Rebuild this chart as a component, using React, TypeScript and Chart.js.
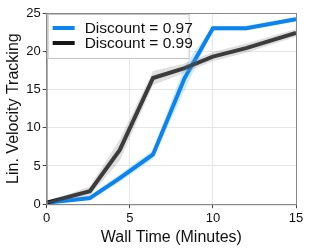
import React, { useEffect, useRef } from "react";
import { Chart, registerables } from "chart.js";

Chart.register(...registerables);

const times = [0, 2.6, 4.4, 6.4, 8.3, 10, 12, 15];
const blueMean = [0.2, 0.8, 3.4, 6.5, 16.5, 23.0, 23.0, 24.2];
const blueStd = [0.1, 0.3, 0.5, 0.6, 1.6, 0.3, 0.3, 0.3];
const blackMean = [0.2, 1.7, 7.1, 16.5, 17.8, 19.3, 20.4, 22.4];
const blackStd = [0.1, 0.6, 1.4, 0.9, 0.6, 0.6, 0.6, 0.5];
const xTicks = [0, 5, 10, 15];
const yTicks = [0, 5, 10, 15, 20, 25];
const labels = ["Discount = 0.97", "Discount = 0.99"];

const BLUE = "#0a84f0";
const BLACK = "#161616";
const FONT = "'Liberation Sans', Arial, sans-serif";

const pts = (m: number[], s: number[], k: number) =>
  times.map((t, i) => ({ x: t, y: m[i] + k * s[i] }));

export default function App() {
  const ref = useRef<HTMLCanvasElement | null>(null);
  useEffect(() => {
    document.body.style.margin = "0";
    const boxPlugin = {
      id: "boxAndLegend",
      afterDraw(chart: any) {
        const { ctx, chartArea: a } = chart;
        ctx.save();
        ctx.strokeStyle = "#888";
        ctx.lineWidth = 1;
        ctx.strokeRect(a.left + 0.5, a.top + 0.5, a.right - a.left, a.bottom - a.top);
        // legend
        const x0 = a.left + 1, y0 = a.top + 1;
        const w = 141, h = 44;
        ctx.fillStyle = "rgba(255,255,255,0.9)";
        ctx.fillRect(x0, y0, w, h);
        ctx.strokeStyle = "#c4c4c4";
        ctx.strokeRect(x0 + 0.5, y0 + 0.5, w, h);
        const cols = [BLUE, BLACK];
        ctx.font = `15.5px ${FONT}`;
        ctx.textBaseline = "middle";
        labels.forEach((l, i) => {
          const y = y0 + 14 + i * 15;
          ctx.strokeStyle = cols[i];
          ctx.lineWidth = 4;
          ctx.beginPath();
          ctx.moveTo(x0 + 5, y);
          ctx.lineTo(x0 + 27, y);
          ctx.stroke();
          ctx.fillStyle = "#111";
          ctx.fillText(l, x0 + 37, y + 1);
        });
        ctx.restore();
      },
    };
    const chart = new Chart(ref.current!, {
      type: "scatter",
      data: {
        datasets: [
          { data: pts(blackMean, blackStd, -1), showLine: true, borderWidth: 0, pointRadius: 0, borderColor: "transparent" },
          { data: pts(blackMean, blackStd, 1), showLine: true, borderWidth: 0, pointRadius: 0, borderColor: "transparent", fill: "-1", backgroundColor: "rgba(150,150,150,0.3)" },
          { data: pts(blueMean, blueStd, -1), showLine: true, borderWidth: 0, pointRadius: 0, borderColor: "transparent" },
          { data: pts(blueMean, blueStd, 1), showLine: true, borderWidth: 0, pointRadius: 0, borderColor: "transparent", fill: "-1", backgroundColor: "rgba(10,132,240,0.18)" },
          { data: pts(blackMean, blackStd, 0), showLine: true, borderWidth: 4, pointRadius: 0, borderColor: BLACK },
          { data: pts(blueMean, blueStd, 0), showLine: true, borderWidth: 4, pointRadius: 0, borderColor: BLUE },
        ],
      },
      options: {
        animation: false,
        responsive: false,
        layout: { padding: { top: 13, right: 16, left: 0, bottom: 0 } },
        plugins: { legend: { display: false }, tooltip: { enabled: false } },
        scales: {
          x: {
            type: "linear",
            min: 0,
            max: 15,
            afterBuildTicks: (s: any) => { s.ticks = xTicks.map((v) => ({ value: v })); },
            grid: { color: "#e6e6e6", tickColor: "#444", tickLength: 4 },
            border: { color: "#888" },
            ticks: { color: "#111", font: { family: FONT, size: 13 }, padding: 2 },
            title: { display: true, text: "Wall Time (Minutes)", color: "#111", font: { family: FONT, size: 16 }, padding: { top: 0, bottom: 2 } },
          },
          y: {
            min: 0,
            max: 25,
            afterBuildTicks: (s: any) => { s.ticks = yTicks.map((v) => ({ value: v })); },
            grid: { color: "#e6e6e6", tickColor: "#444", tickLength: 4 },
            border: { color: "#888" },
            ticks: { color: "#111", font: { family: FONT, size: 13 }, padding: 2 },
            title: { display: true, text: "Lin. Velocity Tracking", color: "#111", font: { family: FONT, size: 16 }, padding: { bottom: 1 } },
          },
        },
      },
      plugins: [boxPlugin],
    });
    return () => chart.destroy();
  }, []);
  return (
    <div style={{ position: "absolute", left: 0, top: 0, width: 312, height: 249 }}>
      <canvas ref={ref} width={312} height={249} style={{ width: 312, height: 249 }} />
    </div>
  );
}
